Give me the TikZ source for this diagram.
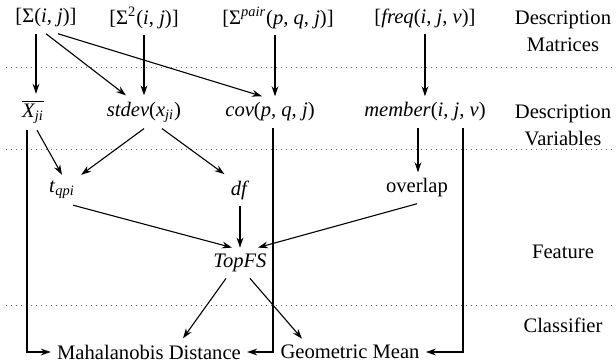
\documentclass[tikz,border=0pt]{standalone}
\usepackage{amsmath}
\usepackage{fontspec}
\setmainfont{Liberation Serif}
\usepackage{tikz}
\usetikzlibrary{arrows.meta,positioning}
\tikzset{
  item/.style    = {inner sep=3pt, font=\fontsize{10.3}{13.5}\selectfont},
  side/.style    = {inner sep=2pt, align=center,
                    font=\fontsize{10.3}{13.5}\selectfont},
  arr/.style     = {-{Stealth[length=5pt,width=3.4pt]}, line width=0.55pt},
  divider/.style = {dotted, draw=black!60, line width=0.5pt},
}
\begin{document}
\begin{tikzpicture}[x=0.5pt, y=-0.5pt, >=Stealth]
\useasboundingbox (0,0) rectangle (616,364);

%% -- Layer separators -----------------------------------
\draw[divider] (6,67)  -- (616,67);
\draw[divider] (6,149) -- (616,149);
\draw[divider] (6,305) -- (616,305);

%% -- Layer names ----------------------------------------
\node[side] (lmat)  at (563,31)  {Description\\Matrices};
\node[side] (lvar)  at (563,125) {Description\\Variables};
\node[side] (lfeat) at (563,252) {Feature};
\node[side] (lclf)  at (563,325) {Classifier};

%% -- Description matrices -------------------------------
\node[item] (sij)   at (46,18)  {[Σ(\textit{i}, \textit{j})]};
\node[item] (s2)    at (144,18) {[Σ\textsuperscript{2}(\textit{i}, \textit{j})]};
\node[item] (spair) at (278,18) {[Σ\textsuperscript{\textit{pair}}(\textit{p}, \textit{q}, \textit{j})]};
\node[item] (freq)  at (425,18) {[\textit{freq}(\textit{i}, \textit{j}, \textit{v})]};

%% -- Description variables ------------------------------
\node[item] (xbar)   at (33,112)  {$\overline{\textit{X}_{\textit{ji}}}$};
\node[item] (stdev)  at (144,112) {\textit{stdev}(\textit{x}\textsubscript{\textit{ji}})};
\node[item] (cov)    at (270,112) {\textit{cov}(\textit{p}, \textit{q}, \textit{j})};
\node[item] (member) at (425,112) {\textit{member}(\textit{i}, \textit{j}, \textit{v})};

%% -- Features -------------------------------------------
\node[item] (tqpi)    at (62,190)  {\textit{t}\textsubscript{\textit{qpi}}};
\node[item] (df)      at (240,190) {\textit{df}};
\node[item] (overlap) at (417,188) {overlap};
\node[item] (topfs)   at (240,263) {\textit{TopFS}};

%% -- Classifiers ----------------------------------------
\node[item] (maha) at (149,352) {Mahalanobis Distance};
\node[item] (geo)  at (350,352) {Geometric Mean};

%% -- Arrows: matrices -> variables ----------------------
\draw[arr] ([xshift=-5pt]sij.south) -- ([xshift=-5pt]sij.south |- xbar.north);
\draw[arr] (sij.south) -- ([xshift=-9pt]stdev.north);
\draw[arr] ([xshift=6pt]sij.south) -- ([xshift=-4pt]cov.north);
\draw[arr] (s2) -- (stdev);
\draw[arr] ([xshift=-1.5pt]spair.south) -- ([xshift=-1.5pt]spair.south |- cov.north);
\draw[arr] (freq) -- (member);

%% -- Arrows: variables -> features ----------------------
\draw[arr] ([xshift=2pt]xbar.south) -- (tqpi.north);
\draw[arr] (stdev.south) -- (tqpi.north east);
\draw[arr] ([xshift=9pt]stdev.south) -- (df.north west);
\draw[arr] ([xshift=-3.5pt]member.south) -- ([xshift=-3.5pt]member.south |- overlap.north);

%% -- Arrows: features -> TopFS --------------------------
\draw[arr] ([xshift=-4pt]tqpi.south east) -- ([xshift=-4pt]topfs.north);
\draw[arr] (df) -- (topfs);
\draw[arr] (overlap.south) -- ([xshift=9pt]topfs.north);

%% -- Arrows: into classifiers ---------------------------
\draw[arr] ([xshift=-7pt]topfs.south) -- ([xshift=17pt]maha.north);
\draw[arr] ([xshift=5pt]topfs.south) -- ([xshift=-24pt]geo.north);
\draw[arr] ([xshift=-3pt]xbar.south) |- (maha.west);
\draw[arr] ([xshift=1.5pt]cov.south) |- (maha.east);
\draw[arr] ([xshift=19pt]member.south) |- (geo.east);

\end{tikzpicture}
\end{document}
